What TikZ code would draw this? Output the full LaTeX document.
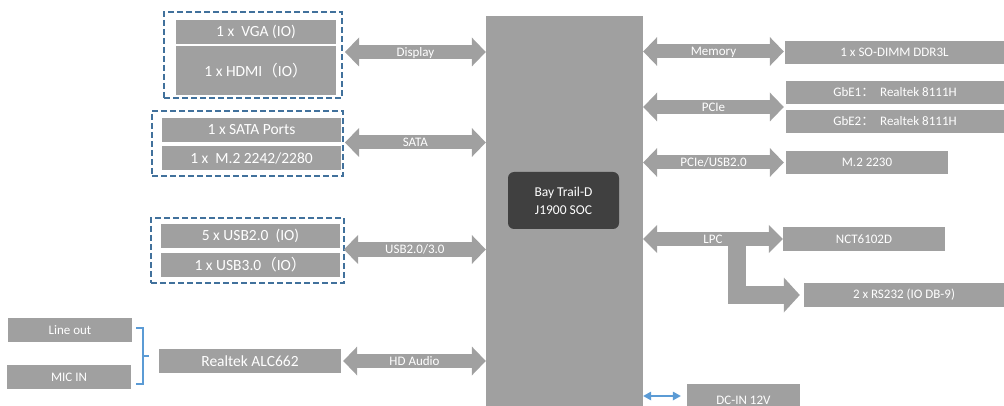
\documentclass[tikz,border=0pt]{standalone}
\usepackage{fontspec}
\setmainfont{Carlito}
\newfontfamily\cjk{Noto Sans CJK SC}
\usetikzlibrary{arrows.meta,calc}
\definecolor{boxgray}{RGB}{160,160,160}
\definecolor{dashblue}{RGB}{65,113,156}
\definecolor{lightblue}{RGB}{91,155,213}
\definecolor{chipdark}{RGB}{64,64,64}
\begin{document}
\begin{tikzpicture}[x=1pt,y=-1pt,
  box/.style={fill=boxgray, text=white, inner sep=0pt, font=\fontsize{15.5}{18}\selectfont},
  sbox/.style={box, font=\fontsize{13}{15}\selectfont},
  grp/.style={draw=dashblue, line width=2pt, dash pattern=on 6pt off 3pt, inner sep=0pt},
  fat/.style={draw=boxgray, line width=14pt,
    {Triangle[length=14pt,width=29pt,line width=0pt]}-{Triangle[length=14pt,width=29pt,line width=0pt]}},
  lbl/.style={text=white, inner sep=0pt, text height=9pt, text depth=2pt, yshift=-1pt, font=\fontsize{13}{15}\selectfont},
  brk/.style={draw=lightblue, line width=1.5pt}
]
\useasboundingbox (0,0) rectangle (1004,406);
\clip (0,0) rectangle (1004,406);

% central SoC
\node[fill=boxgray, minimum width=157pt, minimum height=395pt, inner sep=0pt] (soc) at (564.5,213.5) {};
\node[fill=chipdark, rounded corners=6pt, minimum width=111pt, minimum height=57pt, inner sep=0pt,
      text=white, align=center, font=\fontsize{13.5}{18}\selectfont] (chip) at (563.5,200.5) {Bay Trail-D\\J1900 SOC};

% left side
\node[grp, minimum width=178pt, minimum height=86pt] (g1) at (253,55) {};
\node[box, minimum width=160pt, minimum height=24pt] (vga) at (256,32) {1 x\ \ VGA (IO)};
\node[box, minimum width=160pt, minimum height=49pt] (hdmi) at (256,70.5) {1 x HDMI{\cjk（}IO{\cjk）}};

\node[grp, minimum width=191pt, minimum height=65pt] (g2) at (247.5,143.5) {};
\node[box, minimum width=179pt, minimum height=24pt] (sata) at (251.5,130) {1 x SATA Ports};
\node[box, minimum width=179pt, minimum height=24pt] (m2) at (251.5,158) {1 x\ \ M.2 2242/2280};

\node[grp, minimum width=193pt, minimum height=65pt] (g3) at (247.5,250.5) {};
\node[box, minimum width=179pt, minimum height=24pt] (usb2) at (250.5,236) {5 x USB2.0\ \ (IO)};
\node[box, minimum width=179pt, minimum height=24pt] (usb3) at (250.5,265) {1 x USB3.0{\cjk（}IO{\cjk）}};

\node[sbox, minimum width=124pt, minimum height=24pt] (lineout) at (70,330) {Line out};
\node[sbox, minimum width=124pt, minimum height=24pt] (micin) at (69,377) {MIC IN};
\node[box, minimum width=182pt, minimum height=24pt] (alc) at (250,361) {Realtek ALC662};

% right side
\node[sbox, minimum width=219pt, minimum height=23pt] (dimm) at (894.5,52.5) {1 x SO-DIMM DDR3L};
\node[sbox, minimum width=218pt, minimum height=23pt] (gbe1) at (895,92.5) {GbE1{\cjk：}\ \ Realtek 8111H};
\node[sbox, minimum width=218pt, minimum height=23pt] (gbe2) at (895,121.5) {GbE2{\cjk：}\ \ Realtek 8111H};
\node[sbox, minimum width=162pt, minimum height=23pt] (m2230) at (867,162.5) {M.2 2230};
\node[sbox, minimum width=162pt, minimum height=24pt] (nct) at (864,239) {NCT6102D};
\node[sbox, minimum width=200pt, minimum height=24pt] (rs) at (904,295) {2 x RS232 (IO DB-9)};
\node[sbox, minimum width=113pt, minimum height=32pt] (dcin) at (743.5,400) {DC-IN 12V};

% fat connectors, left
\draw[fat] ([xshift=2pt]g1.east |- 0,52) -- (soc.west |- 0,52) node[midway, lbl] {Display};
\draw[fat] ([xshift=1pt]g2.east |- 0,142.5) -- (soc.west |- 0,142.5) node[midway, lbl] {SATA};
\draw[fat] ([xshift=-1pt]g3.east |- 0,249.5) -- (soc.west |- 0,249.5) node[midway, lbl] {USB2.0/3.0};
\draw[fat] ([xshift=2pt]alc.east) -- (soc.west |- alc.east) node[midway, lbl] {HD Audio};

% fat connectors, right
\coordinate (gbemid) at ($(gbe1.south west)!0.5!(gbe2.north west)$);
\draw[fat] (soc.east |- 0,51.5) -- ([xshift=-1pt]dimm.west |- 0,51.5) node[midway, lbl] {Memory};
\draw[fat] (soc.east |- gbemid) -- ([xshift=-2pt]gbemid) node[midway, lbl] {PCIe};
\draw[fat] (soc.east |- m2230.west) -- ([xshift=-2pt]m2230.west) node[midway, lbl] {PCIe/USB2.0};
\draw[boxgray, line width=18pt, -{Triangle[length=16pt,width=35pt,line width=0pt]}, shorten >=4pt]
  (737,239) |- (rs.west);
\draw[fat, {Triangle[length=14pt,width=28pt,line width=0pt]}-{Triangle[length=14pt,width=28pt,line width=0pt]}]
  (soc.east |- nct.west) -- (nct.west) node[midway, lbl] {LPC};

% DC-in
\draw[draw=lightblue, line width=2.5pt,
  {Triangle[length=8pt,width=9pt,line width=0pt]}-{Triangle[length=8pt,width=9pt,line width=0pt]}]
  (soc.east |- 0,396) -- ([xshift=-6pt]dcin.west |- 0,396);

% audio bracket
\coordinate (bt) at ([xshift=4pt,yshift=2pt]lineout.east);
\coordinate (bb) at ([xshift=5pt,yshift=-7pt]micin.east);
\draw[brk] (bt) -- ++(7,0) |- (bb);
\draw[brk] ($(bt)!0.5!(bb)+(7,0)$) -- ++(6,0);
\end{tikzpicture}
\end{document}
